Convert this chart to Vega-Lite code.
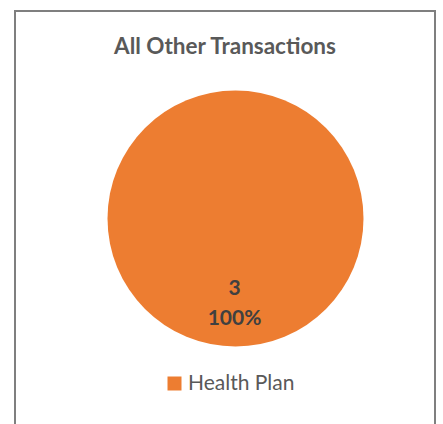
{
  "$schema": "https://vega.github.io/schema/vega-lite/v6.json",
  "autosize": {"type": "none"},
  "padding": {"left": 15, "top": 11, "right": 8, "bottom": 0},
  "width": 420,
  "height": 415,
  "background": "white",
  "view": {"stroke": "#7f7f7f", "strokeWidth": 2},
  "config": {
    "view": {"stroke": "#7f7f7f", "strokeWidth": 2},
    "font": "Lato"
  },
  "title": {
    "text": "All Other Transactions",
    "anchor": "middle",
    "font": "Lato",
    "fontSize": 22.5,
    "fontWeight": "bold",
    "color": "#595959",
    "baseline": "alphabetic",
    "offset": -65
  },
  "data": {"values": [{"category": "Health Plan", "count": 3, "pct": "100%"}]},
  "encoding": {
    "theta": {"field": "count", "type": "quantitative", "stack": true},
    "color": {
      "field": "category",
      "type": "nominal",
      "scale": {"range": ["#ED7D31"]},
      "legend": {
        "title": null,
        "orient": "none",
        "legendX": 149,
        "legendY": 362,
        "symbolType": "square",
        "symbolSize": 196,
        "symbolStrokeWidth": 0,
        "labelFont": "Lato",
        "labelFontSize": 21,
        "labelColor": "#595959",
        "labelOffset": 3
      }
    }
  },
  "layer": [
    {"mark": {"type": "arc", "outerRadius": 128, "xOffset": 10.5}},
    {
      "mark": {"type": "text", "radius": 76, "xOffset": 9.5, "baseline": "alphabetic", "fontWeight": "bold", "fontSize": 21, "font": "Lato", "color": "#404040"},
      "encoding": {"text": {"field": "count", "type": "quantitative"}, "color": {"value": "#404040"}}
    },
    {
      "mark": {"type": "text", "radius": 106, "xOffset": 9.5, "baseline": "alphabetic", "fontWeight": "bold", "fontSize": 21, "font": "Lato", "color": "#404040"},
      "encoding": {"text": {"field": "pct", "type": "nominal"}, "color": {"value": "#404040"}}
    }
  ]
}
